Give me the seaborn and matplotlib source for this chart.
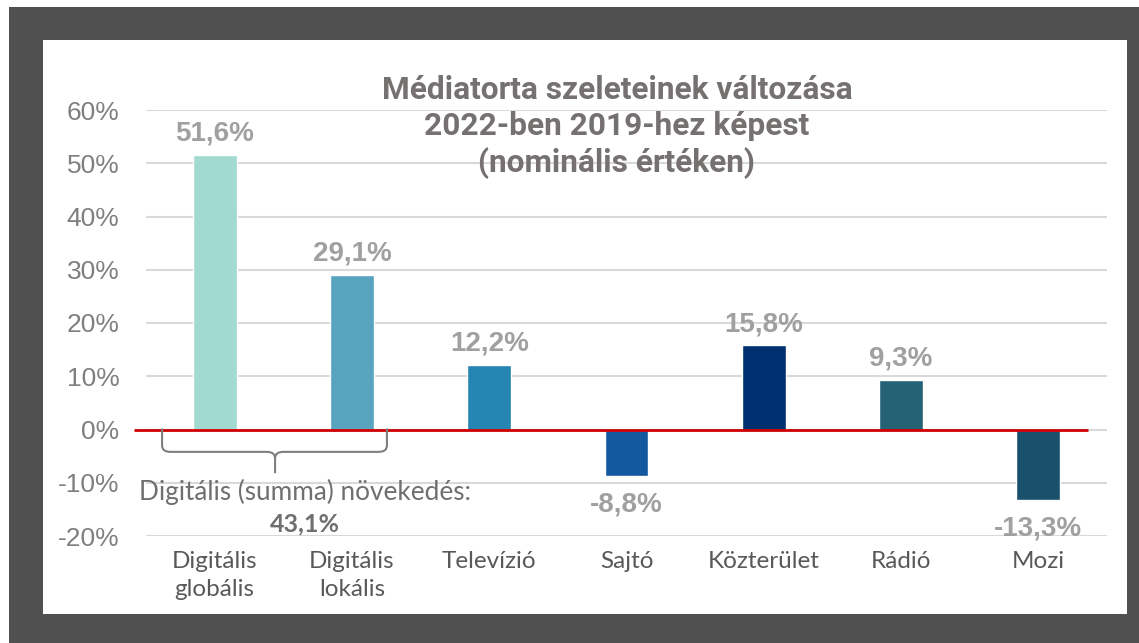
import numpy as np
import pandas as pd
import matplotlib
matplotlib.use("Agg")
import matplotlib.pyplot as plt
import seaborn as sns
from matplotlib.patches import Rectangle, PathPatch
from matplotlib.path import Path

# data
categories = ["Digitális\nglobális", "Digitális\nlokális", "Televízió", "Sajtó",
              "Közterület", "Rádió", "Mozi"]
values = [51.6, 29.1, 12.2, -8.8, 15.8, 9.3, -13.3]
bar_colors = ["#a2d9d0", "#58a4be", "#2586b3", "#1459a0", "#00306f", "#256275", "#19506c"]
yticks = [-20, -10, 0, 10, 20, 30, 40, 50, 60]
digital_sum = 43.1

title = "Médiatorta szeleteinek változása\n2022-ben 2019-hez képest\n(nominális értéken)"

df = pd.DataFrame({"cat": categories, "val": values})

sns.set_theme(style="white")
plt.rcParams["font.family"] = ["Liberation Sans", "DejaVu Sans"]

W, H = 1139, 643
fig = plt.figure(figsize=(W / 100, H / 100), dpi=100, facecolor="white")

# dark frame + white panel
fig.patches.append(Rectangle((9 / W, 0), 1 - 9 / W, (H - 7) / H, transform=fig.transFigure,
                             facecolor="#505050", edgecolor="none", zorder=-10))
fig.patches.append(Rectangle((43 / W, 1 - 614 / H), (1127 - 43) / W, (614 - 40) / H,
                             transform=fig.transFigure, facecolor="white",
                             edgecolor="none", zorder=-9))

ax = fig.add_axes([146 / W, 1 - 536 / H, (1107 - 146) / W, (536 - 110) / H])
ax.set_facecolor("none")
ax.set_zorder(2)

sns.barplot(data=df, x="cat", y="val", hue="cat", palette=bar_colors, width=0.32,
            saturation=1, legend=False, ax=ax, zorder=3)

ax.set_ylim(-20, 60)
ax.set_xlim(-0.5, len(categories) - 0.5)
ax.set_yticks(yticks)
ax.set_yticklabels([f"{t}%" for t in yticks])
ax.yaxis.grid(True, color="#d9d9d9", linewidth=1.5, zorder=0)
ax.set_axisbelow(True)
for s in ax.spines.values():
    s.set_visible(False)
ax.set_xlabel("")
ax.set_ylabel("")
ax.tick_params(axis="y", length=0, pad=19, labelsize=19, labelcolor="#7f7f7f")
ax.tick_params(axis="x", length=0, pad=11, labelcolor="#595959")
for lab in ax.get_xticklabels():
    lab.set_fontfamily("Lato")
    lab.set_fontsize(17.5)
    lab.set_linespacing(1.4)

# value labels
for cont, v in zip(ax.containers, values):
    txt = f"{v:.1f}%".replace(".", ",")
    ax.bar_label(cont, labels=[txt], padding=6 if v > 0 else 11, fontsize=20,
                 fontweight="bold", color="#a0a0a0", clip_on=False)

# red zero line
ax.hlines(0, -0.59, 6.36, color="#d00000", linewidth=2, zorder=4, clip_on=False)

# brace under the two digital bars
bx0, bx1, bm = -0.383, 1.255, 0.44
yt, yh, yp = 0.2, -4.2, -8.2
r = 0.06
verts = [(bx0, yt), (bx0, yh + 1.2), (bx0, yh), (bx0 + r, yh),
         (bm - r, yh), (bm, yh), (bm, yh - 1.2), (bm, yp),
         (bm, yh - 1.2), (bm, yh), (bm + r, yh),
         (bx1 - r, yh), (bx1, yh), (bx1, yh + 1.2), (bx1, yt)]
codes = [Path.MOVETO, Path.LINETO, Path.CURVE3, Path.CURVE3,
         Path.LINETO, Path.CURVE3, Path.CURVE3, Path.LINETO,
         Path.MOVETO, Path.CURVE3, Path.CURVE3,
         Path.LINETO, Path.CURVE3, Path.CURVE3, Path.LINETO]
ax.add_patch(PathPatch(Path(verts, codes), facecolor="none", edgecolor="#7f7f7f",
                       linewidth=1.5, clip_on=False, zorder=4))

ax.text(0.658, -11.8, "Digitális (summa) növekedés:", ha="center", va="center",
        fontsize=18.8, color="#6f6f6f", family="Lato", zorder=5)
ax.text(0.658, -17.7, f"{digital_sum:.1f}%".replace(".", ","), ha="center", va="center",
        fontsize=18, fontweight="bold", color="#6f6f6f", family="Lato", zorder=5)

# title
ax.text(617 / W, 1 - 127 / H, title, transform=fig.transFigure, ha="center", va="center",
        fontsize=22.8, fontweight="bold", fontstyle="normal", color="#767171",
        family="Roboto", linespacing=1.23, zorder=6)

fig.savefig("out.png", dpi=100, facecolor=fig.get_facecolor())
